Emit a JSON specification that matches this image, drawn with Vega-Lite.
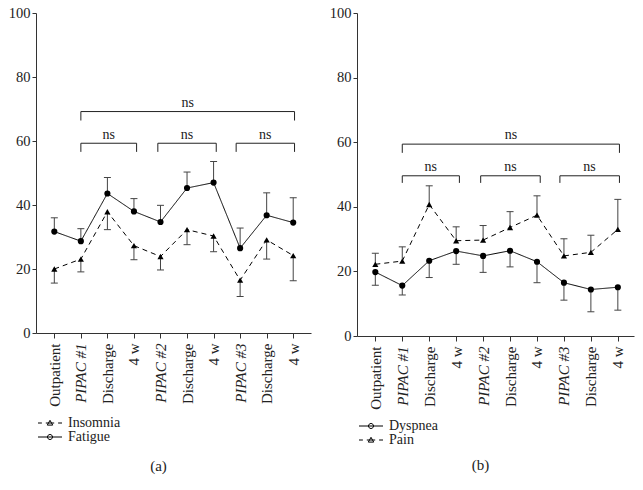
{
  "$schema": "https://vega.github.io/schema/vega-lite/v6.json",
  "padding": {"left": 8, "top": 5, "right": 5, "bottom": 5},
  "spacing": 18,
  "resolve": {"scale": {"shape": "independent"}, "legend": {"shape": "independent"}},
  "config": {
    "font": "Liberation Serif",
    "view": {"stroke": null},
    "axis": {"domainColor": "#333", "tickColor": "#333", "labelColor": "#222", "labelFont": "Liberation Serif", "titleFont": "Liberation Serif", "grid": false, "titleFontWeight": "normal", "titleColor": "#222"},
    "legend": {"labelFont": "Liberation Serif", "labelFontSize": 14, "labelColor": "#222", "symbolSize": 144, "rowPadding": -2, "symbolStrokeColor": "black", "symbolStrokeWidth": 1, "symbolFillColor": "black"}
  },
  "datasets": {
    "a": [
      {"t": 1, "series": "Fatigue", "mean": 31.7, "err": 36.0},
      {"t": 2, "series": "Fatigue", "mean": 28.7, "err": 32.6},
      {"t": 3, "series": "Fatigue", "mean": 43.6, "err": 48.6},
      {"t": 4, "series": "Fatigue", "mean": 38.0, "err": 42.0},
      {"t": 5, "series": "Fatigue", "mean": 34.7, "err": 39.9},
      {"t": 6, "series": "Fatigue", "mean": 45.3, "err": 50.3},
      {"t": 7, "series": "Fatigue", "mean": 47.0, "err": 53.6},
      {"t": 8, "series": "Fatigue", "mean": 26.5, "err": 32.8},
      {"t": 9, "series": "Fatigue", "mean": 36.8, "err": 43.8},
      {"t": 10, "series": "Fatigue", "mean": 34.5, "err": 42.3},
      {"t": 1, "series": "Insomnia", "mean": 20.0, "err": 15.6},
      {"t": 2, "series": "Insomnia", "mean": 23.1, "err": 19.1},
      {"t": 3, "series": "Insomnia", "mean": 37.9, "err": 32.3},
      {"t": 4, "series": "Insomnia", "mean": 27.3, "err": 22.9},
      {"t": 5, "series": "Insomnia", "mean": 23.9, "err": 19.7},
      {"t": 6, "series": "Insomnia", "mean": 32.3, "err": 27.6},
      {"t": 7, "series": "Insomnia", "mean": 30.3, "err": 25.4},
      {"t": 8, "series": "Insomnia", "mean": 16.5, "err": 11.4},
      {"t": 9, "series": "Insomnia", "mean": 29.1, "err": 23.1},
      {"t": 10, "series": "Insomnia", "mean": 24.2, "err": 16.3}
    ],
    "b": [
      {"t": 1, "series": "Dyspnea", "mean": 19.8, "err": 15.7},
      {"t": 2, "series": "Dyspnea", "mean": 15.6, "err": 12.7},
      {"t": 3, "series": "Dyspnea", "mean": 23.3, "err": 18.1},
      {"t": 4, "series": "Dyspnea", "mean": 26.3, "err": 22.2},
      {"t": 5, "series": "Dyspnea", "mean": 24.8, "err": 19.7},
      {"t": 6, "series": "Dyspnea", "mean": 26.4, "err": 21.4},
      {"t": 7, "series": "Dyspnea", "mean": 23.0, "err": 16.5},
      {"t": 8, "series": "Dyspnea", "mean": 16.5, "err": 11.1},
      {"t": 9, "series": "Dyspnea", "mean": 14.4, "err": 7.5},
      {"t": 10, "series": "Dyspnea", "mean": 15.1, "err": 8.0},
      {"t": 1, "series": "Pain", "mean": 22.2, "err": 25.6},
      {"t": 2, "series": "Pain", "mean": 23.2, "err": 27.6},
      {"t": 3, "series": "Pain", "mean": 40.7, "err": 46.5},
      {"t": 4, "series": "Pain", "mean": 29.5, "err": 33.8},
      {"t": 5, "series": "Pain", "mean": 29.7, "err": 34.2},
      {"t": 6, "series": "Pain", "mean": 33.6, "err": 38.5},
      {"t": 7, "series": "Pain", "mean": 37.4, "err": 43.4},
      {"t": 8, "series": "Pain", "mean": 24.8, "err": 30.1},
      {"t": 9, "series": "Pain", "mean": 25.9, "err": 31.2},
      {"t": 10, "series": "Pain", "mean": 33.0, "err": 42.3}
    ],
    "bra": [
      {"b": 1, "o": 1, "t": 2, "v": 66.4}, {"b": 1, "o": 2, "t": 2, "v": 69.2}, {"b": 1, "o": 3, "t": 10.05, "v": 69.2}, {"b": 1, "o": 4, "t": 10.05, "v": 66.4},
      {"b": 2, "o": 1, "t": 2, "v": 56.6}, {"b": 2, "o": 2, "t": 2, "v": 59.3}, {"b": 2, "o": 3, "t": 4.1, "v": 59.3}, {"b": 2, "o": 4, "t": 4.1, "v": 56.6},
      {"b": 3, "o": 1, "t": 4.9, "v": 56.6}, {"b": 3, "o": 2, "t": 4.9, "v": 59.3}, {"b": 3, "o": 3, "t": 7.1, "v": 59.3}, {"b": 3, "o": 4, "t": 7.1, "v": 56.6},
      {"b": 4, "o": 1, "t": 7.85, "v": 56.6}, {"b": 4, "o": 2, "t": 7.85, "v": 59.3}, {"b": 4, "o": 3, "t": 10.05, "v": 59.3}, {"b": 4, "o": 4, "t": 10.05, "v": 56.6}
    ],
    "brb": [
      {"b": 1, "o": 1, "t": 2, "v": 56.7}, {"b": 1, "o": 2, "t": 2, "v": 59.4}, {"b": 1, "o": 3, "t": 10.06, "v": 59.4}, {"b": 1, "o": 4, "t": 10.06, "v": 56.7},
      {"b": 2, "o": 1, "t": 2, "v": 47.4}, {"b": 2, "o": 2, "t": 2, "v": 49.6}, {"b": 2, "o": 3, "t": 4.12, "v": 49.6}, {"b": 2, "o": 4, "t": 4.12, "v": 47.4},
      {"b": 3, "o": 1, "t": 4.91, "v": 47.4}, {"b": 3, "o": 2, "t": 4.91, "v": 49.6}, {"b": 3, "o": 3, "t": 7.12, "v": 49.6}, {"b": 3, "o": 4, "t": 7.12, "v": 47.4},
      {"b": 4, "o": 1, "t": 7.85, "v": 47.4}, {"b": 4, "o": 2, "t": 7.85, "v": 49.6}, {"b": 4, "o": 3, "t": 10.06, "v": 49.6}, {"b": 4, "o": 4, "t": 10.06, "v": 47.4}
    ],
    "nsa": [
      {"t": 6.03, "v": 72.0, "label": "ns"},
      {"t": 3.05, "v": 62.0, "label": "ns"},
      {"t": 6.0, "v": 62.0, "label": "ns"},
      {"t": 8.95, "v": 62.0, "label": "ns"}
    ],
    "nsb": [
      {"t": 6.03, "v": 62.2, "label": "ns"},
      {"t": 3.06, "v": 52.2, "label": "ns"},
      {"t": 6.02, "v": 52.2, "label": "ns"},
      {"t": 8.95, "v": 52.2, "label": "ns"}
    ]
  },
  "hconcat": [
    {
      "width": 275,
      "height": 320,
      "encoding": {
        "x": {
          "field": "t", "type": "quantitative",
          "scale": {"domain": [0.31, 10.67], "nice": false, "zero": false},
          "axis": {
            "values": [1, 2, 3, 4, 5, 6, 7, 8, 9, 10],
            "labelExpr": "['Outpatient','PIPAC #1','Discharge','4 w','PIPAC #2','Discharge','4 w','PIPAC #3','Discharge','4 w'][datum.value-1]",
            "labelAngle": -90, "labelFontSize": 15, "tickSize": 5, "labelPadding": 5,
            "labelFontStyle": {"condition": {"test": "datum.value==2||datum.value==5||datum.value==8", "value": "italic"}, "value": "normal"},
            "title": "(a)", "titleFontSize": 15, "titleX": 122, "titleY": 132, "titleBaseline": "middle", "titleAnchor": "middle"
          }
        }
      },
      "layer": [
        {
          "data": {"name": "bra"},
          "mark": {"type": "line", "color": "#222", "strokeWidth": 1},
          "encoding": {
            "y": {"field": "v", "type": "quantitative", "scale": {"domain": [0, 100], "nice": false}, "axis": {"values": [0, 20, 40, 60, 80, 100], "tickSize": 4, "labelPadding": 2, "labelFontSize": 14.5, "title": null}},
            "detail": {"field": "b"},
            "order": {"field": "o"}
          }
        },
        {
          "data": {"name": "nsa"},
          "mark": {"type": "text", "fontSize": 14, "baseline": "middle", "color": "#222"},
          "encoding": {"y": {"field": "v", "type": "quantitative"}, "text": {"field": "label"}}
        },
        {
          "data": {"name": "a"},
          "mark": {"type": "rule", "color": "#444", "strokeWidth": 1},
          "encoding": {"y": {"field": "mean", "type": "quantitative"}, "y2": {"field": "err"}}
        },
        {
          "data": {"name": "a"},
          "mark": {"type": "tick", "orient": "horizontal", "color": "#444", "size": 7, "thickness": 1, "opacity": 1},
          "encoding": {"y": {"field": "err", "type": "quantitative"}}
        },
        {
          "data": {"name": "a"},
          "mark": {"type": "line", "color": "black", "strokeWidth": 1},
          "encoding": {
            "y": {"field": "mean", "type": "quantitative"},
            "detail": {"field": "series"},
            "strokeDash": {"condition": {"test": "datum.series === 'Insomnia'", "value": [5, 4]}, "value": [1, 0]}
          }
        },
        {
          "data": {"name": "a"},
          "mark": {"type": "point", "filled": true, "opacity": 1, "color": "black", "size": 38},
          "encoding": {
            "y": {"field": "mean", "type": "quantitative"},
            "shape": {"condition": {"test": "datum.series === 'Insomnia'", "value": "triangle-up"}, "value": "circle"}
          }
        },
        {
          "data": {"name": "a"},
          "transform": [{"filter": "datum.t > 99"}],
          "mark": {"type": "point", "filled": false, "opacity": 1, "color": "black", "strokeWidth": 1},
          "encoding": {
            "y": {"field": "mean", "type": "quantitative"},
            "shape": {
              "field": "series",
              "scale": {"domain": ["Insomnia", "Fatigue"], "range": ["M-2,0H-1.35M-0.7,0H0.7M1.35,0H2M0,-0.45L0.45,0.35L-0.45,0.35Z", "M-2,0H2M0.42,0A0.42,0.42 0 1 1 -0.42,0A0.42,0.42 0 1 1 0.42,0Z"]},
              "legend": {
                "title": null, "orient": "none", "legendX": 7, "legendY": 403, "labelOffset": 11, "labelFont": "Liberation Serif", "labelFontSize": 14,
                "symbolStrokeColor": "black", "symbolStrokeWidth": 1, "symbolFillColor": "black",
                "encode": {"symbols": {
                  "fill": {"value": "black"}, "stroke": {"value": "black"}, "strokeWidth": {"value": 1}, "opacity": {"value": 1}
                }}
              }
            }
          }
        }
      ]
    },
    {
      "width": 277,
      "height": 323,
      "encoding": {
        "x": {
          "field": "t", "type": "quantitative",
          "scale": {"domain": [0.32, 10.6], "nice": false, "zero": false},
          "axis": {
            "values": [1, 2, 3, 4, 5, 6, 7, 8, 9, 10],
            "labelExpr": "['Outpatient','PIPAC #1','Discharge','4 w','PIPAC #2','Discharge','4 w','PIPAC #3','Discharge','4 w'][datum.value-1]",
            "labelAngle": -90, "labelFontSize": 15, "tickSize": 5, "labelPadding": 5,
            "labelFontStyle": {"condition": {"test": "datum.value==2||datum.value==5||datum.value==8", "value": "italic"}, "value": "normal"},
            "title": "(b)", "titleFontSize": 15, "titleX": 123, "titleY": 128, "titleBaseline": "middle", "titleAnchor": "middle"
          }
        }
      },
      "layer": [
        {
          "data": {"name": "brb"},
          "mark": {"type": "line", "color": "#222", "strokeWidth": 1},
          "encoding": {
            "y": {"field": "v", "type": "quantitative", "scale": {"domain": [0, 100], "nice": false}, "axis": {"values": [0, 20, 40, 60, 80, 100], "tickSize": 4, "labelPadding": 2, "labelFontSize": 14.5, "title": null}},
            "detail": {"field": "b"},
            "order": {"field": "o"}
          }
        },
        {
          "data": {"name": "nsb"},
          "mark": {"type": "text", "fontSize": 14, "baseline": "middle", "color": "#222"},
          "encoding": {"y": {"field": "v", "type": "quantitative"}, "text": {"field": "label"}}
        },
        {
          "data": {"name": "b"},
          "mark": {"type": "rule", "color": "#444", "strokeWidth": 1},
          "encoding": {"y": {"field": "mean", "type": "quantitative"}, "y2": {"field": "err"}}
        },
        {
          "data": {"name": "b"},
          "mark": {"type": "tick", "orient": "horizontal", "color": "#444", "size": 7, "thickness": 1, "opacity": 1},
          "encoding": {"y": {"field": "err", "type": "quantitative"}}
        },
        {
          "data": {"name": "b"},
          "mark": {"type": "line", "color": "black", "strokeWidth": 1},
          "encoding": {
            "y": {"field": "mean", "type": "quantitative"},
            "detail": {"field": "series"},
            "strokeDash": {"condition": {"test": "datum.series === 'Pain'", "value": [5, 4]}, "value": [1, 0]}
          }
        },
        {
          "data": {"name": "b"},
          "mark": {"type": "point", "filled": true, "opacity": 1, "color": "black", "size": 38},
          "encoding": {
            "y": {"field": "mean", "type": "quantitative"},
            "shape": {"condition": {"test": "datum.series === 'Pain'", "value": "triangle-up"}, "value": "circle"}
          }
        },
        {
          "data": {"name": "b"},
          "transform": [{"filter": "datum.t > 99"}],
          "mark": {"type": "point", "filled": false, "opacity": 1, "color": "black", "strokeWidth": 1},
          "encoding": {
            "y": {"field": "mean", "type": "quantitative"},
            "shape": {
              "field": "series",
              "scale": {"domain": ["Dyspnea", "Pain"], "range": ["M-2,0H2M0.42,0A0.42,0.42 0 1 1 -0.42,0A0.42,0.42 0 1 1 0.42,0Z", "M-2,0H-1.35M-0.7,0H0.7M1.35,0H2M0,-0.45L0.45,0.35L-0.45,0.35Z"]},
              "legend": {
                "title": null, "orient": "none", "legendX": 7, "legendY": 406, "labelOffset": 11, "labelFont": "Liberation Serif", "labelFontSize": 14,
                "symbolStrokeColor": "black", "symbolStrokeWidth": 1, "symbolFillColor": "black",
                "encode": {"symbols": {
                  "fill": {"value": "black"}, "stroke": {"value": "black"}, "strokeWidth": {"value": 1}, "opacity": {"value": 1}
                }}
              }
            }
          }
        }
      ]
    }
  ]
}
